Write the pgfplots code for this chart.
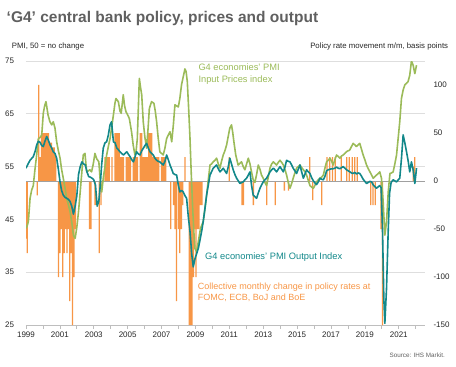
\documentclass[border=0pt]{standalone}
\usepackage{fontspec}
\setmainfont{Liberation Sans}
\usepackage{pgfplots}
\pgfplotsset{compat=1.18}
\definecolor{ihsorange}{RGB}{247,150,70}
\definecolor{ihsgreen}{RGB}{155,187,89}
\definecolor{ihsteal}{RGB}{18,136,138}
\definecolor{titlegray}{RGB}{96,96,96}
\definecolor{gridgray}{RGB}{222,222,222}
\definecolor{zerogray}{RGB}{160,160,160}
\definecolor{axgray}{RGB}{190,190,190}
\definecolor{labgray}{RGB}{38,38,38}
\pgfplotsset{
  base/.style={at={(26bp,-325bp)}, anchor=south west, scale only axis,
    width=399bp, height=264bp, xmin=1999, xmax=2022.55, clip=true},
  lab/.style={font=\fontsize{8bp}{9.6bp}\selectfont, text=labgray,
    /pgf/number format/assume math mode=true, /pgf/number format/1000 sep={}},
}
\begin{document}
\begin{tikzpicture}
\useasboundingbox (0,0) rectangle (456bp,-367bp);
% background axis: PMI grid, x axis
\begin{axis}[base, ymin=25, ymax=75,
  axis x line*=bottom, axis y line*=left,
  y axis line style={draw=none}, x axis line style={axgray, line width=0.8bp},
  ytick={25,35,...,75}, ymajorgrids, grid style={gridgray, line width=0.7bp},
  ytick style={draw=none},
  xtick={1999,2001,...,2021}, minor xtick={2000,2002,...,2022},
  tick align=outside, xtick style={axgray, line width=0.7bp},
  major tick length=3.5bp, minor tick length=3.5bp,
  ticklabel style={lab},
  yticklabel style={xshift=-5bp},
]
\addplot[draw=none] coordinates {(2000,50)};
\end{axis}
% bars axis: policy rate movement
\begin{axis}[base, ymin=-150, ymax=125,
  hide x axis, axis y line*=right, y axis line style={draw=none},
  ytick={-150,-100,...,100}, ytick style={draw=none},
  ticklabel style={lab}, yticklabel style={xshift=5bp},
]
\addplot[ybar, bar width=0.075, fill=ihsorange, draw=none] coordinates {
(1999.00,-60) (1999.08,-75) (1999.67,-15) (1999.75,100) (1999.83,25) (1999.92,50)
(2000.00,50) (2000.08,50) (2000.17,50) (2000.25,50) (2000.33,50) (2000.42,40)
(2000.50,40) (2000.58,35) (2000.67,35) (2000.75,25)
(2000.92,-100) (2001.00,-75) (2001.08,-50) (2001.17,-100) (2001.25,-75) (2001.33,-50)
(2001.42,-75) (2001.50,-50) (2001.58,-125) (2001.67,-75) (2001.75,-150) (2001.83,-100)
(2001.92,-50)
(2002.75,-50) (2002.83,-50) (2003.08,-25) (2003.33,-75) (2003.42,-25)
(2003.67,25) (2003.75,25) (2003.83,25) (2003.92,25) (2004.08,25)
(2004.25,50) (2004.33,50) (2004.42,50) (2004.50,50) (2004.58,25) (2004.67,25)
(2004.75,25) (2004.92,25) (2005.00,25) (2005.08,25) (2005.17,25) (2005.33,25)
(2005.42,25) (2005.50,25) (2005.58,25) (2005.75,50) (2005.83,50) (2005.92,25)
(2006.00,25) (2006.08,25) (2006.17,25) (2006.25,50) (2006.33,50) (2006.42,50)
(2006.50,25) (2006.58,25) (2006.67,25) (2006.75,25) (2006.83,25) (2007.00,25)
(2007.08,25) (2007.17,25) (2007.25,25)
(2007.54,-50) (2007.71,-25) (2007.79,-50) (2007.88,-125) (2008.00,-50) (2008.08,-75)
(2008.17,-50) (2008.25,-25) (2008.38,25)
(2008.63,-150) (2008.71,-150) (2008.79,-150) (2008.88,-100) (2008.96,-50)
(2009.04,-100) (2009.13,-50) (2009.21,-50) (2009.29,-25) (2009.38,-25)
(2011.00,25) (2011.75,-25) (2011.83,-25) (2012.42,-25) (2013.21,-25) (2013.71,-25)
(2014.25,-10) (2014.50,-10) (2015.75,25) (2015.92,-20) (2016.45,-25)
(2016.77,25) (2016.93,25) (2017.09,25) (2017.25,25) (2017.60,25) (2017.93,25)
(2018.08,25) (2018.25,25) (2018.40,25) (2018.55,25)
(2019.35,-25) (2019.48,-25) (2019.62,-25) (2019.96,-50) (2020.04,-150)
(2021.85,15) (2021.95,25)
};
\addplot[zerogray, line width=0.9bp] coordinates {(1999,0) (2022.55,0)};
\end{axis}
% lines axis: PMI
\begin{axis}[base, ymin=25, ymax=75, hide axis]
\addplot[ihsgreen, line width=1.6bp, line join=round] coordinates {
(1999.00,43.3) (1999.07,43.8) (1999.14,44.6) (1999.24,49.0) (1999.33,50.5) (1999.43,51.4)
(1999.53,54.5) (1999.63,57.2) (1999.73,60.3) (1999.83,60.5) (1999.93,61.0) (2000.02,65.1)
(2000.10,66.5) (2000.18,67.3) (2000.30,64.8) (2000.41,63.5) (2000.52,62.9) (2000.61,63.5)
(2000.71,62.3) (2000.81,59.7) (2000.91,58.0) (2001.01,56.6) (2001.10,54.5) (2001.20,52.8)
(2001.30,51.0) (2001.40,49.0) (2001.50,47.8) (2001.60,46.5) (2001.70,44.5) (2001.80,42.0)
(2001.90,41.4) (2002.00,43.5) (2002.10,46.5) (2002.23,51.4) (2002.31,54.5) (2002.38,57.2)
(2002.48,57.5) (2002.58,54.0) (2002.68,54.2) (2002.77,54.4) (2002.87,54.0) (2002.97,55.5)
(2003.07,57.5) (2003.17,56.5) (2003.30,55.9) (2003.40,51.5) (2003.47,50.2) (2003.56,52.8)
(2003.66,55.0) (2003.76,57.2) (2003.86,58.8) (2003.96,60.3) (2004.06,62.5) (2004.16,64.8)
(2004.25,67.0) (2004.31,67.9) (2004.45,67.3) (2004.55,65.5) (2004.62,65.1) (2004.74,68.6)
(2004.82,66.5) (2004.90,65.4) (2005.00,64.8) (2005.10,64.1) (2005.23,61.6) (2005.33,59.0)
(2005.43,57.2) (2005.50,58.0) (2005.57,60.3) (2005.63,66.0) (2005.69,71.7) (2005.76,70.0)
(2005.83,68.6) (2005.92,63.5) (2006.02,60.5) (2006.12,58.5) (2006.20,62.0) (2006.28,66.0)
(2006.41,67.3) (2006.55,67.0) (2006.63,65.5) (2006.71,63.5) (2006.80,60.5) (2006.90,57.8)
(2007.00,57.5) (2007.10,57.2) (2007.20,58.5) (2007.30,60.3) (2007.40,61.0) (2007.50,61.6)
(2007.60,59.7) (2007.70,63.0) (2007.79,66.7) (2007.89,66.5) (2007.99,66.3) (2008.08,67.9)
(2008.18,70.5) (2008.28,72.0) (2008.38,73.5) (2008.45,73.0) (2008.52,71.1) (2008.60,66.0)
(2008.68,60.3) (2008.75,54.0) (2008.83,47.7) (2008.90,43.0) (2008.97,39.5) (2009.07,38.9)
(2009.17,40.8) (2009.30,43.3) (2009.46,44.6) (2009.56,47.0) (2009.66,49.6) (2009.76,52.5)
(2009.86,55.3) (2009.95,55.5) (2010.05,55.9) (2010.15,56.2) (2010.25,56.6) (2010.35,55.5)
(2010.45,54.7) (2010.54,56.0) (2010.64,57.2) (2010.74,58.0) (2010.84,59.1) (2010.94,60.8)
(2011.03,62.3) (2011.13,62.9) (2011.20,61.5) (2011.27,59.7) (2011.38,57.2) (2011.52,55.3)
(2011.62,55.6) (2011.72,55.9) (2011.82,55.0) (2011.92,54.4) (2012.02,55.5) (2012.12,56.6)
(2012.22,55.5) (2012.31,54.0) (2012.41,52.5) (2012.51,52.0) (2012.61,53.5) (2012.71,55.3)
(2012.81,54.5) (2012.90,53.4) (2013.00,52.8) (2013.10,52.0) (2013.20,51.4) (2013.30,53.0)
(2013.40,54.7) (2013.50,55.5) (2013.60,55.9) (2013.69,55.6) (2013.79,55.3) (2013.89,55.8)
(2013.99,56.2) (2014.09,55.8) (2014.19,55.3) (2014.29,54.4) (2014.38,53.4) (2014.48,52.0)
(2014.58,50.9) (2014.68,51.8) (2014.77,52.8) (2014.87,53.8) (2014.97,54.7) (2015.07,55.0)
(2015.17,55.3) (2015.27,54.8) (2015.37,54.4) (2015.47,54.0) (2015.56,53.4) (2015.66,52.4)
(2015.76,51.4) (2015.86,51.1) (2015.96,50.9) (2016.06,51.5) (2016.15,52.1) (2016.25,52.5)
(2016.35,52.8) (2016.45,53.0) (2016.55,53.4) (2016.65,54.8) (2016.74,55.9) (2016.84,56.2)
(2016.94,56.6) (2017.04,56.0) (2017.13,55.3) (2017.23,56.3) (2017.33,57.2) (2017.43,56.9)
(2017.53,56.6) (2017.62,57.0) (2017.72,57.2) (2017.82,57.5) (2017.91,57.8) (2018.01,58.0)
(2018.10,58.1) (2018.21,58.8) (2018.31,59.4) (2018.41,59.1) (2018.50,58.8) (2018.60,59.1)
(2018.70,59.4) (2018.80,58.3) (2018.90,57.2) (2019.00,56.3) (2019.10,55.3) (2019.20,54.6)
(2019.30,54.0) (2019.40,53.4) (2019.49,52.8) (2019.59,53.1) (2019.69,53.4) (2019.79,53.7)
(2019.88,54.0) (2019.98,52.8) (2020.08,48.4) (2020.18,42.0) (2020.28,44.6) (2020.38,50.2)
(2020.48,53.7) (2020.57,53.8) (2020.67,54.0) (2020.77,55.5) (2020.87,57.2) (2020.97,60.5)
(2021.06,63.5) (2021.16,67.9) (2021.26,69.5) (2021.36,70.5) (2021.46,70.8) (2021.55,71.1)
(2021.65,72.3) (2021.75,75.0) (2021.85,74.2) (2021.95,72.6) (2022.05,74.2)
};
\addplot[ihsteal, line width=1.6bp, line join=round] coordinates {
(1999.00,54.7) (1999.12,55.5) (1999.24,56.2) (1999.43,56.9) (1999.55,58.0) (1999.63,59.1)
(1999.73,59.8) (1999.83,59.6) (1999.93,59.0) (2000.02,58.8) (2000.12,59.8) (2000.22,60.7)
(2000.32,60.0) (2000.42,59.1) (2000.52,58.5) (2000.61,57.8) (2000.71,57.5) (2000.81,56.6)
(2000.91,54.5) (2001.01,52.1) (2001.10,50.5) (2001.20,49.6) (2001.30,49.2) (2001.40,49.0)
(2001.50,48.8) (2001.60,48.4) (2001.70,47.5) (2001.80,46.0) (2001.90,47.5) (2002.00,49.5)
(2002.10,53.5) (2002.20,55.0) (2002.30,55.9) (2002.40,55.5) (2002.50,55.3) (2002.60,54.0)
(2002.70,53.1) (2002.80,53.0) (2002.90,52.8) (2003.00,52.5) (2003.10,51.5) (2003.20,47.5)
(2003.30,48.5) (2003.37,51.0) (2003.47,55.5) (2003.56,58.5) (2003.66,59.5) (2003.76,59.7)
(2003.86,61.0) (2003.96,62.9) (2004.05,63.5) (2004.16,59.7) (2004.26,59.5) (2004.36,58.5)
(2004.45,58.2) (2004.55,57.8) (2004.65,57.5) (2004.75,57.2) (2004.85,57.5) (2004.95,57.8)
(2005.05,57.3) (2005.14,56.9) (2005.24,56.3) (2005.34,55.9) (2005.43,56.8) (2005.53,57.8)
(2005.63,57.4) (2005.73,57.2) (2005.83,58.0) (2005.93,58.5) (2006.02,59.0) (2006.12,59.4)
(2006.22,58.5) (2006.32,57.8) (2006.41,57.5) (2006.51,57.2) (2006.61,56.6) (2006.71,56.2)
(2006.80,56.0) (2006.90,55.9) (2007.00,55.6) (2007.10,55.3) (2007.20,56.0) (2007.30,57.2)
(2007.40,56.3) (2007.50,55.3) (2007.60,54.5) (2007.69,53.7) (2007.79,53.5) (2007.89,53.4)
(2007.99,51.5) (2008.08,50.2) (2008.18,50.5) (2008.28,50.2) (2008.38,49.5) (2008.48,49.0)
(2008.58,45.5) (2008.68,42.7) (2008.78,38.5) (2008.87,36.0) (2008.97,37.5) (2009.07,38.5)
(2009.17,39.5) (2009.27,41.1) (2009.37,42.8) (2009.46,44.6) (2009.56,47.0) (2009.66,49.6)
(2009.76,51.5) (2009.86,53.4) (2009.95,54.0) (2010.05,54.7) (2010.15,55.0) (2010.25,55.3)
(2010.35,54.6) (2010.45,54.0) (2010.54,54.3) (2010.64,54.7) (2010.74,54.2) (2010.84,53.7)
(2010.94,55.0) (2011.03,56.6) (2011.13,55.5) (2011.23,54.4) (2011.33,53.5) (2011.43,52.8)
(2011.53,52.3) (2011.63,51.8) (2011.73,52.0) (2011.82,52.1) (2011.92,52.5) (2012.02,52.8)
(2012.12,53.4) (2012.22,54.0) (2012.31,51.5) (2012.41,49.6) (2012.51,49.3) (2012.61,49.0)
(2012.71,50.0) (2012.81,50.9) (2012.90,51.5) (2013.00,52.1) (2013.10,52.5) (2013.20,52.8)
(2013.30,53.4) (2013.40,54.0) (2013.50,54.4) (2013.60,54.7) (2013.69,54.4) (2013.79,54.0)
(2013.89,54.5) (2013.99,55.0) (2014.09,54.5) (2014.19,54.0) (2014.29,55.0) (2014.38,56.2)
(2014.48,56.0) (2014.58,55.9) (2014.68,55.3) (2014.77,54.7) (2014.87,54.2) (2014.97,53.7)
(2015.07,54.5) (2015.17,55.3) (2015.27,54.0) (2015.37,52.8) (2015.47,53.6) (2015.56,54.4)
(2015.66,54.0) (2015.76,53.7) (2015.86,52.9) (2015.96,52.3) (2016.06,51.9) (2016.15,51.6)
(2016.25,52.1) (2016.35,52.8) (2016.45,52.6) (2016.55,52.5) (2016.65,53.2) (2016.74,54.2)
(2016.84,54.4) (2016.94,54.5) (2017.04,54.6) (2017.13,54.6) (2017.23,54.7) (2017.33,54.9)
(2017.43,54.7) (2017.53,54.6) (2017.62,54.8) (2017.72,55.0) (2017.82,54.7) (2017.92,54.4)
(2018.02,54.2) (2018.12,54.0) (2018.21,53.8) (2018.31,53.7) (2018.41,53.9) (2018.51,53.6)
(2018.60,53.8) (2018.70,53.7) (2018.80,53.2) (2018.90,52.6) (2019.00,52.2) (2019.10,51.8)
(2019.20,52.0) (2019.30,52.2) (2019.40,52.1) (2019.50,51.5) (2019.60,51.2) (2019.69,50.9)
(2019.79,51.2) (2019.88,51.4) (2019.96,51.0) (2020.04,43.3) (2020.12,30.0) (2020.18,25.3)
(2020.28,32.0) (2020.38,43.0) (2020.46,50.0) (2020.55,52.0) (2020.67,52.5) (2020.77,52.3)
(2020.87,52.1) (2020.97,52.5) (2021.06,52.8) (2021.16,56.5) (2021.26,61.0) (2021.36,59.5)
(2021.46,57.8) (2021.56,56.0) (2021.65,54.0) (2021.75,55.9) (2021.85,54.4) (2021.95,51.8)
(2022.05,54.7)
};
\end{axis}
% texts
\node[anchor=base west, inner sep=0, text=titlegray, font=\fontsize{15.5bp}{18bp}\selectfont\bfseries]
  at (6.5bp,-22.7bp) {‘G4’ central bank policy, prices and output};
\node[anchor=base west, inner sep=0, text=labgray, font=\fontsize{7.8bp}{9bp}\selectfont]
  at (11.7bp,-48.3bp) {PMI, 50 = no change};
\node[anchor=base east, inner sep=0, text=labgray, font=\fontsize{7.8bp}{9bp}\selectfont]
  at (448.3bp,-48.3bp) {Policy rate movement m/m, basis points};
\node[anchor=base east, inner sep=0, text=titlegray, font=\fontsize{6.3bp}{7.5bp}\selectfont]
  at (445bp,-357.5bp) {Source: IHS Markit.};
\node[anchor=base west, inner sep=0, text=ihsgreen, font=\fontsize{9.3bp}{11.3bp}\selectfont, align=left]
  at (198.3bp,-82bp) {G4 economies’ PMI\\Input Prices index};
\node[anchor=base west, inner sep=0, text=ihsteal, font=\fontsize{9.3bp}{11bp}\selectfont]
  at (205bp,-259bp) {G4 economies’ PMI Output Index};
\node[anchor=base west, inner sep=0, text=ihsorange, font=\fontsize{9bp}{10.7bp}\selectfont, align=left]
  at (197.7bp,-300.5bp) {Collective monthly change in policy rates at\\FOMC, ECB, BoJ and BoE};
\end{tikzpicture}
\end{document}
